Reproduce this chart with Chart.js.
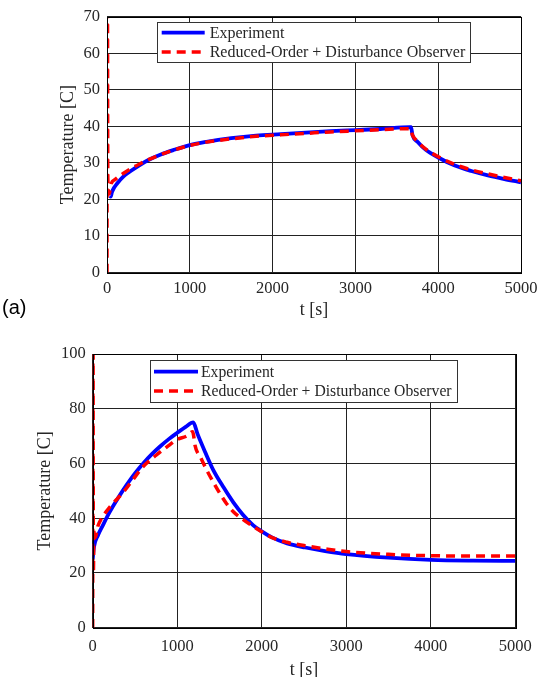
<!DOCTYPE html>
<html>
<head>
<meta charset="utf-8">
<script src="https://cdn.jsdelivr.net/npm/chart.js@4"></script>
<style>
  html, body { margin: 0; padding: 0; background: #fff; }
  body { width: 544px; height: 677px; position: relative; overflow: hidden; }
  canvas { position: absolute; left: 0; }
  #tag { position: absolute; left: 2px; top: 296px; font: 20px "Liberation Sans", Arial, sans-serif; color: #000; }
</style>
</head>
<body>
<canvas id="chartA" width="544" height="330" style="top:0"></canvas>
<canvas id="chartB" width="544" height="347" style="top:330px"></canvas>
<div id="tag">(a)</div>
<script>
// ---- panel (a): measured vs. observer, first run ----
const aExpTime = [36, 45, 60, 80, 120, 200, 300, 400, 500, 650, 800, 1000, 1200, 1500, 1800, 2100, 2400, 2700, 3000, 3300, 3660, 3672, 3690, 3750, 3850, 4000, 4200, 4400, 4600, 4800, 5000];
const aExp     = [21, 20.8, 22, 23, 24.3, 26.3, 28, 29.5, 30.8, 32.3, 33.5, 34.9, 35.8, 36.8, 37.5, 37.9, 38.3, 38.7, 39, 39.3, 39.8, 39.8, 37.6, 35.8, 33.6, 31.5, 29.3, 27.8, 26.6, 25.6, 24.7];
const aModelTime = [0, 3, 10, 25, 50, 100, 200, 300, 400, 500, 650, 800, 1000, 1200, 1500, 1800, 2100, 2400, 2700, 3000, 3300, 3650, 3665, 3690, 3750, 3850, 4000, 4200, 4400, 4600, 4800, 5000];
const aModel     = [0, 110, 26, 21.5, 24.3, 25.5, 27.2, 28.6, 29.8, 30.9, 32.3, 33.5, 34.8, 35.7, 36.6, 37.3, 37.7, 38.1, 38.5, 38.8, 39.1, 39.4, 39.4, 37.6, 35.9, 33.8, 31.7, 29.6, 28.1, 27.0, 26.0, 25.1];

// ---- panel (b): second run ----
const bExpTime = [0, 15, 60, 120, 200, 300, 400, 500, 600, 700, 800, 900, 1000, 1100, 1190, 1240, 1330, 1427, 1550, 1664, 1780, 1900, 2000, 2120, 2300, 2515, 2750, 3000, 3500, 4000, 4500, 5000];
const bExp     = [25, 29.5, 33.6, 37.4, 42.2, 47.4, 52.1, 56.4, 60.1, 63.4, 66.3, 68.9, 71.2, 73.4, 75, 70.8, 64.2, 57.6, 51.2, 45.8, 41.2, 37.4, 35.2, 33, 30.8, 29.3, 28, 26.9, 25.6, 24.8, 24.5, 24.4];
const bModelTime = [0, 3, 8, 15, 30, 60, 106, 200, 362, 450, 600, 750, 875, 1000, 1112, 1183, 1195, 1210, 1280, 1349, 1430, 1506, 1580, 1664, 1780, 1900, 2118, 2300, 2500, 2750, 3000, 3500, 4000, 4500, 5000];
const bModel     = [0, 130, 20, 36, 33, 37, 40, 44, 49.5, 53, 59, 63, 66, 68.8, 70, 71.6, 70, 66.7, 62, 57.6, 53, 49, 45.5, 42.4, 39.5, 37, 33, 31.2, 30, 28.8, 27.8, 26.8, 26.3, 26.2, 26.2];

const timeTicks = [0, 1000, 2000, 3000, 4000, 5000];
const seriesNames = ['Experiment', 'Reduced-Order + Disturbance Observer'];

const serif = '"Liberation Serif", "Times New Roman", serif';
const ink = '#262626';

const toPoints = (xs, ys) => xs.map((x, i) => ({ x: x, y: ys[i] }));

// black frame around the plot area
const framePlugin = {
  id: 'frame',
  afterDatasetsDraw(chart) {
    const a = chart.chartArea;
    const ctx = chart.ctx;
    ctx.save();
    ctx.strokeStyle = '#000';
    ctx.lineWidth = 1;
    ctx.strokeRect(Math.round(a.left) + 0.5, Math.round(a.top) + 0.5, Math.round(a.right - a.left), Math.round(a.bottom - a.top));
    ctx.restore();
  }
};

// boxed legend inside the plot area, line samples like the traces
const boxLegendPlugin = {
  id: 'boxLegend',
  afterDraw(chart, args, opts) {
    const a = chart.chartArea;
    const ctx = chart.ctx;
    const sets = chart.data.datasets;
    ctx.save();
    ctx.font = opts.fontSize + 'px ' + serif;
    let textW = 0;
    sets.forEach(ds => { textW = Math.max(textW, ctx.measureText(ds.label).width); });
    const x0 = a.left + opts.offsetX;
    const y0 = a.top + opts.offsetY;
    const w = opts.padX + opts.sample + opts.gap + textW + opts.padRight;
    ctx.fillStyle = '#fff';
    ctx.fillRect(x0, y0, w, opts.height);
    ctx.strokeStyle = '#333';
    ctx.lineWidth = 1;
    ctx.strokeRect(Math.round(x0) + 0.5, Math.round(y0) + 0.5, Math.round(w), opts.height);
    sets.forEach((ds, i) => {
      const y = y0 + opts.firstRow + i * opts.rowGap;
      ctx.beginPath();
      ctx.setLineDash(ds.borderDash || []);
      ctx.strokeStyle = ds.borderColor;
      ctx.lineWidth = ds.borderWidth;
      ctx.moveTo(x0 + opts.padX, y);
      ctx.lineTo(x0 + opts.padX + opts.sample, y);
      ctx.stroke();
      ctx.setLineDash([]);
      ctx.fillStyle = ink;
      ctx.textBaseline = 'middle';
      ctx.textAlign = 'left';
      ctx.fillText(ds.label, x0 + opts.padX + opts.sample + opts.gap, y + 1);
    });
    ctx.restore();
  }
};

function makeChart(id, p) {
  return new Chart(document.getElementById(id), {
    type: 'line',
    data: {
      datasets: [
        {
          label: seriesNames[0],
          data: toPoints(p.expTime, p.exp),
          borderColor: '#0000ff',
          borderWidth: 3.8,
          pointRadius: 0,
          cubicInterpolationMode: 'monotone',
          order: 1
        },
        {
          label: seriesNames[1],
          data: toPoints(p.modelTime, p.model),
          borderColor: '#ff0000',
          borderWidth: 3.5,
          borderDash: [9, 6],
          pointRadius: 0,
          cubicInterpolationMode: 'monotone',
          order: 0
        }
      ]
    },
    options: {
      responsive: false,
      animation: false,
      layout: { padding: { top: p.padTop, right: p.padRight, left: 0, bottom: 0 } },
      plugins: {
        legend: { display: false },
        tooltip: { enabled: false },
        boxLegend: p.legend
      },
      scales: {
        x: {
          type: 'linear',
          min: 0,
          max: 5000,
          afterBuildTicks: scale => { scale.ticks = timeTicks.map(v => ({ value: v })); },
          ticks: { font: { family: serif, size: 16.5 }, color: ink, padding: p.xTickPad, maxRotation: 0, callback: v => String(v) },
          grid: { color: '#222', lineWidth: 1, drawTicks: false },
          border: { display: false },
          title: { display: true, text: 't [s]', font: { family: serif, size: 18 }, color: ink, padding: { top: 0, bottom: p.xTitlePad } },
          afterFit: scale => { scale.height = p.xHeight; }
        },
        y: {
          min: 0,
          max: p.yMax,
          ticks: { stepSize: p.yStep, font: { family: serif, size: 16.5 }, color: ink, padding: 7 },
          grid: { color: '#222', lineWidth: 1, drawTicks: false },
          border: { display: false },
          title: { display: true, text: 'Temperature [C]', font: { family: serif, size: 18 }, color: ink, padding: { top: p.yTitlePad, bottom: 0 } },
          afterFit: scale => { scale.width = p.yWidth; }
        }
      }
    },
    plugins: [framePlugin, boxLegendPlugin]
  });
}

makeChart('chartA', {
  expTime: aExpTime, exp: aExp, modelTime: aModelTime, model: aModel,
  yMax: 70, yStep: 10,
  padTop: 16.5, padRight: 19, yWidth: 107, xHeight: 57.5,
  xTickPad: 6.5, xTitlePad: 9, yTitlePad: 57,
  legend: { offsetX: 50, offsetY: 5.5, padX: 4.7, sample: 43, gap: 5, padRight: 5, height: 40, firstRow: 10.3, rowGap: 19.4, fontSize: 16 }
});

makeChart('chartB', {
  expTime: bExpTime, exp: bExp, modelTime: bModelTime, model: bModel,
  yMax: 100, yStep: 20,
  padTop: 24, padRight: 28.7, yWidth: 92.7, xHeight: 49.3,
  xTickPad: 9, xTitlePad: -3.8, yTitlePad: 34,
  legend: { offsetX: 57.3, offsetY: 6, padX: 4, sample: 44, gap: 3, padRight: 5, height: 42, firstRow: 11.7, rowGap: 19.3, fontSize: 15.7 }
});
</script>
</body>
</html>
